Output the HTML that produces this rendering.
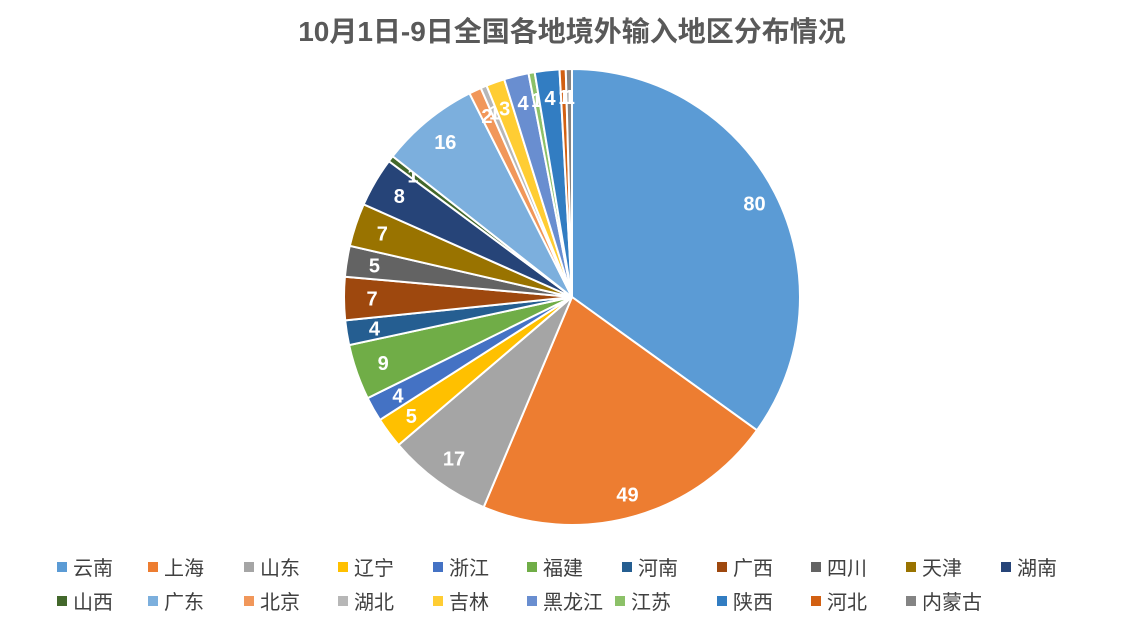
<!DOCTYPE html>
<html><head><meta charset="utf-8"><style>
body{margin:0;background:#fff;width:1144px;height:618px;overflow:hidden;font-family:"Liberation Sans","Noto Sans CJK SC",sans-serif;}
#title{position:absolute;left:0;width:1144px;top:10px;text-align:center;font-size:28px;font-weight:bold;color:#595959;}
.lg{position:absolute;font-size:20px;color:#404040;display:flex;align-items:center;white-space:nowrap;}
.lg span.m{width:10px;height:10px;margin-right:6px;display:inline-block;}
</style></head><body>
<div id="title">10月1日-9日全国各地境外输入地区分布情况</div>
<svg id="pie" width="1144" height="540" style="position:absolute;left:0;top:0"></svg>
<div id="legend"></div>
<script>
const categories=["云南","上海","山东","辽宁","浙江","福建","河南","广西","四川","天津","湖南","山西","广东","北京","湖北","吉林","黑龙江","江苏","陕西","河北","内蒙古"];
const values=[80,49,17,5,4,9,4,7,5,7,8,1,16,2,1,3,4,1,4,1,1];
const colors=["#5B9BD5","#ED7D31","#A5A5A5","#FFC000","#4472C4","#70AD47","#255E91","#9E480E","#636363","#997300","#264478","#43682B","#7CAFDD","#F1975A","#B7B7B7","#FFCD33","#698ED0","#8CC168","#327DC2","#D26012","#848484"];
const cx=572,cy=297,R=228,LR=200;
const svg=document.getElementById('pie');
const NS="http://www.w3.org/2000/svg";
const total=values.reduce((a,b)=>a+b,0);
function pt(a,r){return [cx+r*Math.sin(a),cy-r*Math.cos(a)];}
let a0=0;
values.forEach((v,i)=>{
  const a1=a0+v/total*2*Math.PI;
  const p0=pt(a0,R),p1=pt(a1,R);
  const large=(a1-a0)>Math.PI?1:0;
  const p=document.createElementNS(NS,'path');
  p.setAttribute('d',`M${cx},${cy} L${p0[0]},${p0[1]} A${R},${R} 0 ${large} 1 ${p1[0]},${p1[1]} Z`);
  p.setAttribute('fill',colors[i]);p.setAttribute('stroke','#fff');p.setAttribute('stroke-width','2');
  
  
  svg.appendChild(p);
  const am=(a0+a1)/2;const lp=pt(am,v>=20?205:LR);
  const t=document.createElementNS(NS,'text');
  t.setAttribute('x',lp[0]);t.setAttribute('y',lp[1]+7);t.setAttribute('text-anchor','middle');
  t.setAttribute('fill','#fff');t.setAttribute('font-size','20');t.setAttribute('font-weight','bold');
  t.setAttribute('font-family','Liberation Sans, sans-serif');
  t.textContent=v;
  
  
  svg.appendChild(t);
  a0=a1;
});
const lg=document.getElementById('legend');
const xs1=[57,148,244,338,433,527,622,717,811,906,1001];
const xs2=[57,148,244,338,433,527,615,717,811,906];
categories.forEach((c,i)=>{
  const d=document.createElement('div');d.className='lg';
  const row=i<11?0:1;const x=row?xs2[i-11]:xs1[i];
  d.style.left=x+'px';d.style.top=(row?586:552)+'px';
  d.innerHTML='<span class="m" style="background:'+colors[i]+'"></span>'+c;
  
  
  lg.appendChild(d);
});
</script>
</body></html>
